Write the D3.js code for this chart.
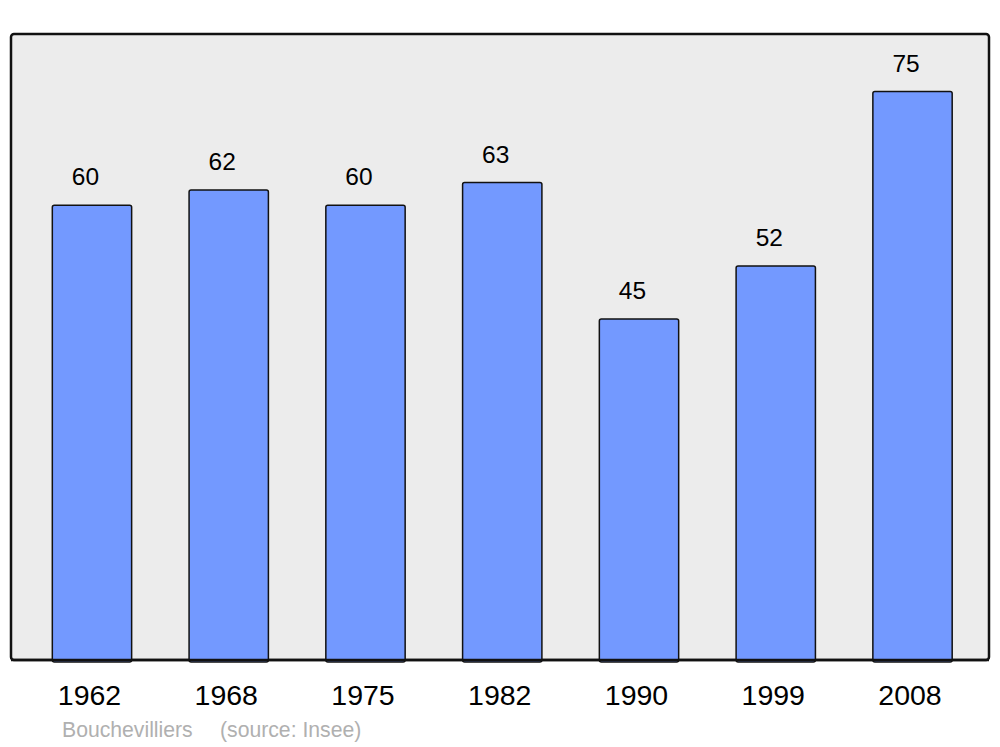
<!DOCTYPE html>
<html><head><meta charset="utf-8">
<script src="https://cdn.jsdelivr.net/npm/d3@7"></script>
<style>body{margin:0;background:#fff}svg{display:block}</style>
</head><body>
<script>
const years = ["1962","1968","1975","1982","1990","1999","2008"];
const population = [60,62,60,63,45,52,75];
const footerName = "Bouchevilliers";
const footerSource = "(source: Insee)";

const W = 1000, H = 747;
const svg = d3.select("body").append("svg").attr("width", W).attr("height", H);
const panel = {x0: 11, x1: 989, y0: 34, y1: 660};

svg.append("rect").attr("x", panel.x0).attr("y", panel.y0)
  .attr("width", panel.x1 - panel.x0).attr("height", panel.y1 - panel.y0)
  .attr("rx", 3).attr("fill", "#ececec").attr("stroke", "#111").attr("stroke-width", 2.5);

const x = d3.scaleBand().domain(years).range([23.6, 980.9]).paddingInner(0.42).paddingOuter(0.21);
const y = d3.scaleLinear().domain([0, 82.6]).range([panel.y1, panel.y0]);

const data = years.map((yr, i) => ({yr, v: population[i]}));

svg.selectAll("rect.bar").data(data).enter().append("rect").attr("class", "bar")
  .attr("x", d => x(d.yr)).attr("y", d => y(d.v))
  .attr("width", x.bandwidth()).attr("height", d => panel.y1 - y(d.v) + 2)
  .attr("rx", 2).attr("fill", "#7399ff").attr("stroke", "#111").attr("stroke-width", 1.5);

svg.append("line").attr("x1", panel.x0).attr("x2", panel.x1).attr("y1", panel.y1).attr("y2", panel.y1)
  .attr("stroke", "#111").attr("stroke-width", 2.5);

svg.selectAll("text.val").data(data).enter().append("text").attr("class", "val")
  .attr("x", d => x(d.yr) + x.bandwidth() / 2 - 6.5).attr("y", d => y(d.v) - 20)
  .attr("text-anchor", "middle").attr("font-family", "Liberation Sans, Arial, sans-serif")
  .attr("font-size", 24.5).attr("fill", "#000").text(d => d.v);

const xAxis = d3.axisBottom(x).tickSize(0).tickPadding(0);
const gx = svg.append("g").attr("transform", `translate(-2.5,${panel.y1})`).call(xAxis);
gx.select(".domain").remove();
gx.selectAll("text").attr("y", 45).attr("dy", 0)
  .attr("font-family", "Liberation Sans, Arial, sans-serif").attr("font-size", 28.5).attr("fill", "#000");

svg.append("text").attr("x", 62).attr("y", 737)
  .attr("font-family", "Liberation Sans, Arial, sans-serif").attr("font-size", 21.2).attr("fill", "#b0b0b0")
  .text(footerName);
svg.append("text").attr("x", 220).attr("y", 737)
  .attr("font-family", "Liberation Sans, Arial, sans-serif").attr("font-size", 21.2).attr("fill", "#b0b0b0")
  .text(footerSource);
</script>
</body></html>
